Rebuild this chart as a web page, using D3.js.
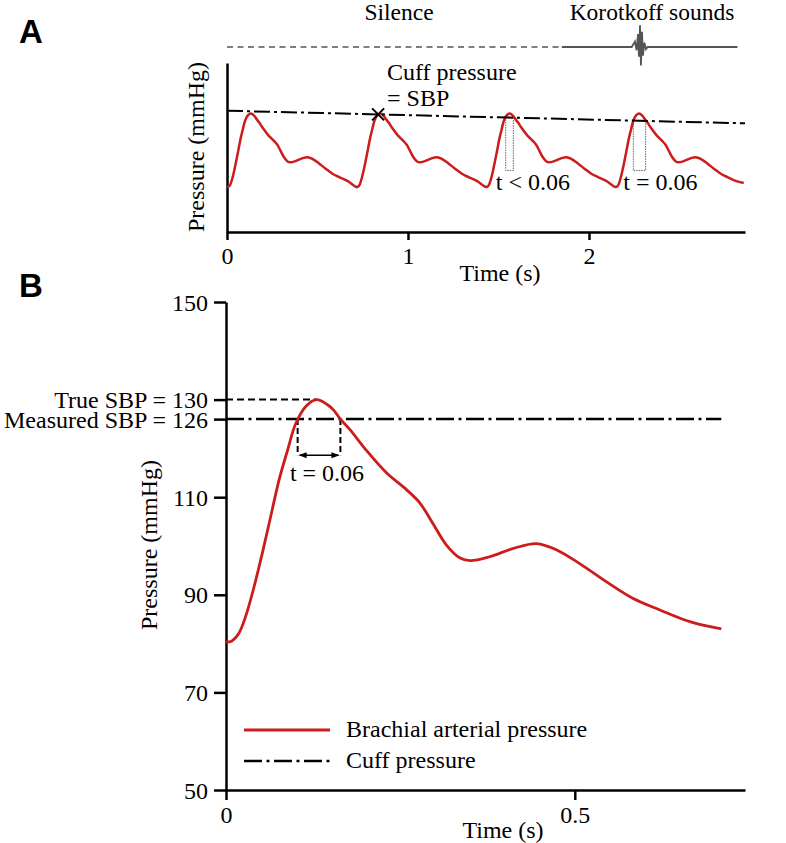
<!DOCTYPE html>
<html>
<head>
<meta charset="utf-8">
<script src="https://cdn.jsdelivr.net/npm/d3@7"></script>
<style>
  body { margin: 0; background: #fff; }
  svg { display: block; }
</style>
</head>
<body>
<svg id="chart" width="786" height="843" font-family="Liberation Serif, Times New Roman, serif"></svg>
<script>
// one cardiac cycle: time (s) and brachial pressure (mmHg)
const beatTime = [0, 0.008, 0.018, 0.028, 0.04, 0.052, 0.064, 0.076, 0.088, 0.1, 0.115, 0.13,
  0.145, 0.154, 0.164, 0.178, 0.2, 0.23, 0.259, 0.278, 0.297, 0.316, 0.335, 0.35, 0.378,
  0.412, 0.445, 0.474, 0.507, 0.545, 0.583, 0.622, 0.665, 0.71];
const beatPressure = [80.3, 80.5, 82, 85.5, 91.5, 98.5, 106, 113.5, 119.5, 125.1, 128.7, 130,
  129, 127.9, 126, 123.8, 119.8, 115, 111.5, 108.8, 104.5, 100.2, 97.6, 97, 97.8,
  99.5, 100.5, 99.2, 96.4, 92.7, 89.3, 86.9, 84.5, 83];

// panel A: onsets of the four beats (s) and the deflating cuff (s, mmHg)
const beatOnsets = [0, 0.715, 1.43, 2.145];
const cuffA = [[0, 131.8], [2.862, 123.3]];
const sbpMark = 0.835;                       // cuff pressure = SBP
const aboveCuff = [[1.54, 1.582], [2.245, 2.313]];
const aboveLabels = ["t < 0.06", "t = 0.06"];
const boxFloor = 91.5;

// top trace: silence, then Korotkoff sounds (s, relative amplitude)
const silence = [0, 1.85];
const soundTime = [1.85, 2.236, 2.254, 2.263, 2.271, 2.276, 2.282, 2.287, 2.293, 2.298, 2.306, 2.315, 2.324, 2.82];
const soundAmp = [0, 0, 0.25, -0.15, 0.6, -0.45, 1, -0.85, 0.7, -0.4, 0.2, -0.1, 0, 0];

// panel B annotations
const trueSBP = 130, measuredSBP = 126;
const peakTime = 0.13;
const crossTimes = [0.1027, 0.164];
const arrowLevel = 118.6;
const cuffBEnd = 0.71;
const yTicksB = [50, 70, 90, 110, 126, 130, 150];
const xTicksA = [0, 1, 2];
const xTicksB = [0, 0.5];
const legendLabels = ["Brachial arterial pressure", "Cuff pressure"];

const red = "#cc1c1c";
const svg = d3.select("#chart");

const xA = d3.scaleLinear().domain([0, 2.862]).range([227, 745]);
const yA = d3.scaleLinear().domain([50, 164]).range([232, 63]);
const xB = d3.scaleLinear().domain([0, 0.744]).range([226, 745]);
const yB = d3.scaleLinear().domain([50, 150]).range([790, 302]);
const ySound = d3.scaleLinear().domain([-1, 1]).range([68.7, 25.3]);

const smooth = d3.curveCatmullRom.alpha(0.5);

function styleAxis(g, fs) {
  g.attr("font-family", null).attr("font-size", fs);
  g.select(".domain").attr("stroke", "#000").attr("stroke-width", 2.5);
  g.selectAll(".tick line").attr("stroke", "#000").attr("stroke-width", 2.5);
  g.selectAll(".tick text").attr("fill", "#000");
}

// panel letters
svg.append("text").attr("x", 19).attr("y", 43).text("A")
  .attr("font-family", "Liberation Sans, Arial, sans-serif").attr("font-weight", "bold").attr("font-size", 33);
svg.append("text").attr("x", 19).attr("y", 297).text("B")
  .attr("font-family", "Liberation Sans, Arial, sans-serif").attr("font-weight", "bold").attr("font-size", 33);

// ---------- panel A ----------
svg.append("text").attr("x", 399).attr("y", 20).attr("text-anchor", "middle")
  .attr("font-size", 23.5).text("Silence");
svg.append("text").attr("x", 652).attr("y", 20).attr("text-anchor", "middle")
  .attr("font-size", 23.5).text("Korotkoff sounds");

svg.append("line")
  .attr("x1", xA(silence[0])).attr("x2", xA(silence[1]))
  .attr("y1", ySound(0)).attr("y2", ySound(0))
  .attr("stroke", "#555").attr("stroke-width", 1.5).attr("stroke-dasharray", "6,4.5");

const soundData = soundTime.map((t, i) => [t, soundAmp[i]]);
svg.append("path")
  .attr("d", d3.line().x(d => xA(d[0])).y(d => ySound(d[1]))(soundData))
  .attr("fill", "none").attr("stroke", "#555").attr("stroke-width", 1.8);

svg.append("g").attr("transform", "translate(0,232)")
  .call(d3.axisBottom(xA).tickValues(xTicksA).tickFormat(d3.format("d"))
    .tickSize(8).tickSizeOuter(0).tickPadding(7))
  .call(g => styleAxis(g, 24));
svg.append("g").attr("transform", "translate(227,0)")
  .call(d3.axisLeft(yA).tickValues([]).tickSizeOuter(0))
  .call(g => styleAxis(g, 24));

svg.append("text").attr("x", 500).attr("y", 281).attr("text-anchor", "middle")
  .attr("font-size", 24).text("Time (s)");
svg.append("text").attr("transform", "translate(204,147) rotate(-90)")
  .attr("text-anchor", "middle").attr("font-size", 24).text("Pressure (mmHg)");

const cuffAt = t => cuffA[0][1] + (cuffA[1][1] - cuffA[0][1]) * (t - cuffA[0][0]) / (cuffA[1][0] - cuffA[0][0]);

// above-cuff boxes
aboveCuff.forEach(iv => {
  const top = yA(cuffAt((iv[0] + iv[1]) / 2));
  svg.append("rect")
    .attr("x", xA(iv[0])).attr("y", top)
    .attr("width", xA(iv[1]) - xA(iv[0])).attr("height", yA(boxFloor) - top)
    .attr("fill", "none").attr("stroke", "#666").attr("stroke-width", 1)
    .attr("stroke-dasharray", "1.5,1");
});

// repeated beats; a beat's tail is dropped where the next beat takes over
const pulseA = beatOnsets.flatMap((t0, k) => beatTime
    .map((t, i) => [t0 + t, beatPressure[i]])
    .filter((d, i) => k === beatOnsets.length - 1 || i < beatTime.length - 1))
  .filter(d => d[0] <= xA.domain()[1]);
svg.append("path")
  .attr("d", d3.line().curve(smooth).x(d => xA(d[0])).y(d => yA(d[1]))(pulseA))
  .attr("fill", "none").attr("stroke", red).attr("stroke-width", 2.5);

svg.append("path")
  .attr("d", d3.line().x(d => xA(d[0])).y(d => yA(d[1]))(cuffA))
  .attr("fill", "none").attr("stroke", "#000").attr("stroke-width", 2)
  .attr("stroke-dasharray", "16,4,3,4");

const mx = xA(sbpMark), my = yA(cuffAt(sbpMark));
svg.append("path")
  .attr("d", `M${mx - 6},${my - 6}L${mx + 6},${my + 6}M${mx - 6},${my + 6}L${mx + 6},${my - 6}`)
  .attr("stroke", "#000").attr("stroke-width", 2);
svg.append("text").attr("x", 387).attr("y", 80).attr("font-size", 24).text("Cuff pressure");
svg.append("text").attr("x", 387).attr("y", 106).attr("font-size", 24).text("= SBP");

aboveCuff.forEach((iv, i) => {
  svg.append("text").attr("x", xA(iv[0]) - 10).attr("y", 190)
    .attr("font-size", 24).text(aboveLabels[i]);
});

// ---------- panel B ----------
const yAxisB = svg.append("g").attr("transform", "translate(226,0)")
  .call(d3.axisLeft(yB).tickValues(yTicksB).tickSize(12).tickSizeOuter(0).tickPadding(6)
    .tickFormat(d => d === trueSBP ? "True SBP = 130" : d === measuredSBP ? "Measured SBP = 126" : d))
  .call(g => styleAxis(g, 24));
yAxisB.selectAll(".tick text").attr("dy", "0.34em");

svg.append("g").attr("transform", "translate(0,790)")
  .call(d3.axisBottom(xB).tickValues(xTicksB).tickSize(10).tickSizeOuter(0).tickPadding(6)
    .tickFormat(d => d === 0 ? "0" : "0.5"))
  .call(g => styleAxis(g, 24));

svg.append("text").attr("x", 503).attr("y", 838).attr("text-anchor", "middle")
  .attr("font-size", 24).text("Time (s)");
svg.append("text").attr("transform", "translate(157,545) rotate(-90)")
  .attr("text-anchor", "middle").attr("font-size", 24).text("Pressure (mmHg)");

svg.append("line")
  .attr("x1", xB(0)).attr("x2", xB(peakTime)).attr("y1", yB(trueSBP)).attr("y2", yB(trueSBP))
  .attr("stroke", "#000").attr("stroke-width", 2).attr("stroke-dasharray", "7,4");
svg.append("line")
  .attr("x1", xB(0)).attr("x2", xB(cuffBEnd)).attr("y1", yB(measuredSBP)).attr("y2", yB(measuredSBP))
  .attr("stroke", "#000").attr("stroke-width", 2.5).attr("stroke-dasharray", "18,4.5,3,4.5");

crossTimes.forEach(t => {
  svg.append("line")
    .attr("x1", xB(t)).attr("x2", xB(t)).attr("y1", yB(measuredSBP)).attr("y2", yB(arrowLevel))
    .attr("stroke", "#000").attr("stroke-width", 2).attr("stroke-dasharray", "6,3");
});

svg.append("defs").append("marker")
  .attr("id", "head").attr("viewBox", "0 0 8 8").attr("refX", 7).attr("refY", 4)
  .attr("markerWidth", 8).attr("markerHeight", 8).attr("markerUnits", "userSpaceOnUse")
  .attr("orient", "auto-start-reverse")
  .append("path").attr("d", "M0,1L8,4L0,7Z").attr("fill", "#000");
svg.append("line")
  .attr("x1", xB(crossTimes[0]) + 2).attr("x2", xB(crossTimes[1]) - 2)
  .attr("y1", yB(arrowLevel)).attr("y2", yB(arrowLevel))
  .attr("stroke", "#000").attr("stroke-width", 1.5)
  .attr("marker-start", "url(#head)").attr("marker-end", "url(#head)");
svg.append("text").attr("x", 327).attr("y", 481).attr("text-anchor", "middle")
  .attr("font-size", 24).text("t = 0.06");

const pulseB = beatTime.map((t, i) => [t, beatPressure[i]]);
svg.append("path")
  .attr("d", d3.line().curve(smooth).x(d => xB(d[0])).y(d => yB(d[1]))(pulseB))
  .attr("fill", "none").attr("stroke", red).attr("stroke-width", 2.8);

// legend
const legend = svg.append("g");
legend.append("line").attr("x1", 244).attr("x2", 330).attr("y1", 730).attr("y2", 730)
  .attr("stroke", red).attr("stroke-width", 2.8);
legend.append("line").attr("x1", 244).attr("x2", 330).attr("y1", 761).attr("y2", 761)
  .attr("stroke", "#000").attr("stroke-width", 2.5).attr("stroke-dasharray", "18,4.5,3,4.5");
legendLabels.forEach((s, i) => {
  legend.append("text").attr("x", 346).attr("y", 730 + i * 31).attr("dy", "0.3em")
    .attr("font-size", 24).text(s);
});
</script>
</body>
</html>
